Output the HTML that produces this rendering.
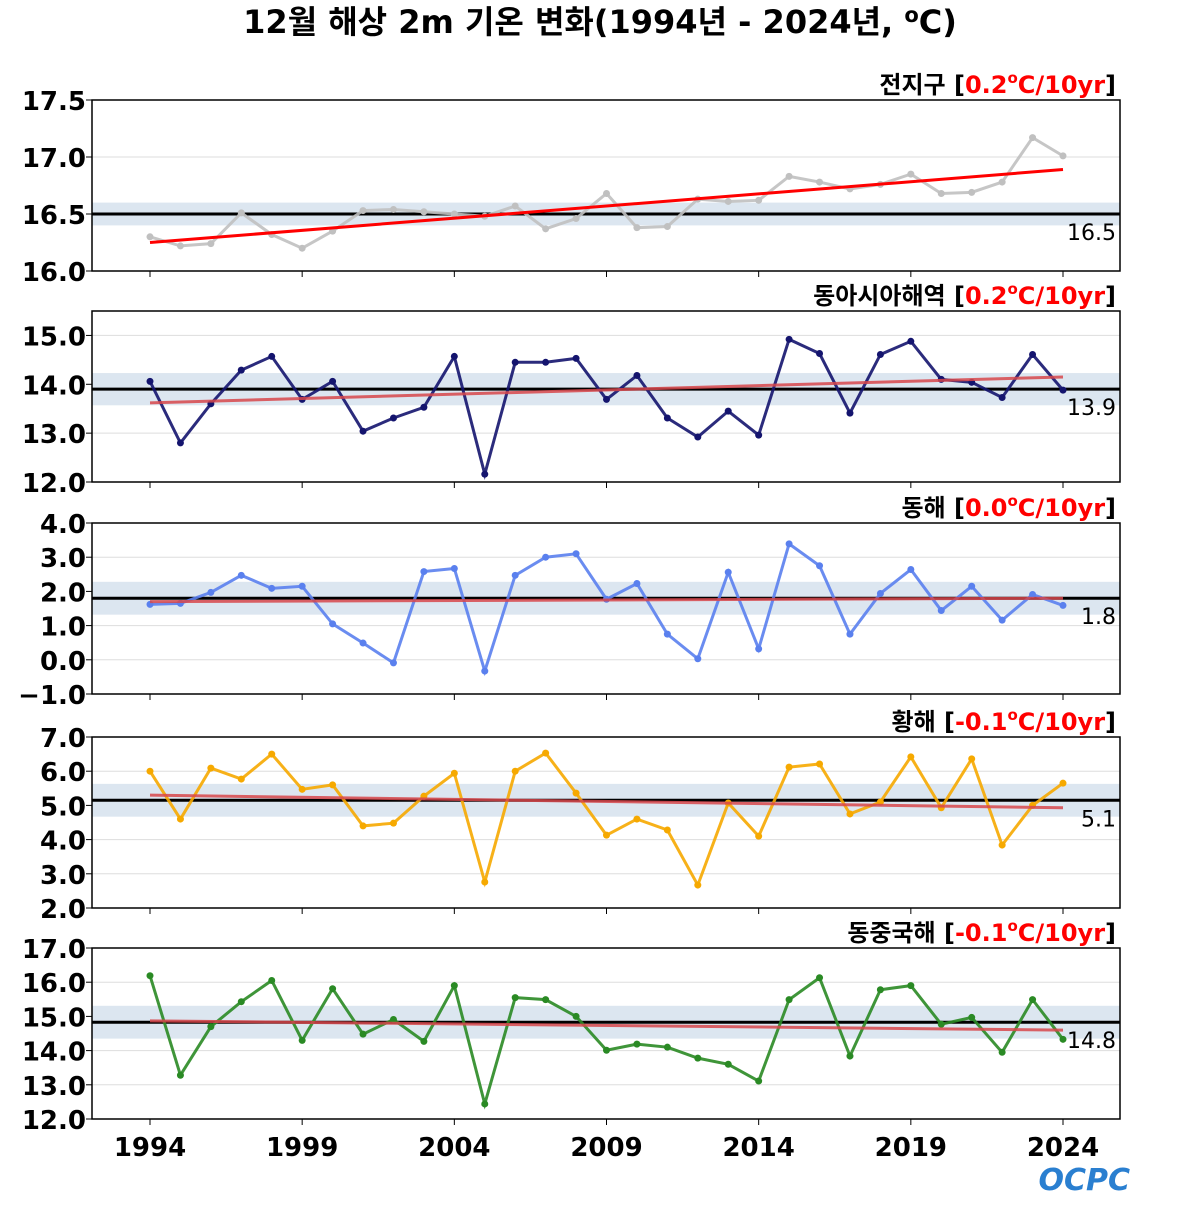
<!DOCTYPE html>
<html><head><meta charset="utf-8"><style>
body{margin:0;background:#fff;}
svg text{font-family:"DejaVu Sans","Noto Sans CJK KR",sans-serif;}
</style></head><body>
<svg id="c" width="1200" height="1200" xmlns="http://www.w3.org/2000/svg">
<text x="600" y="33" text-anchor="middle" font-size="32" font-weight="bold">12월 해상 2m 기온 변화(1994년 - 2024년, <tspan font-size="21" dy="-11">o</tspan><tspan dy="11">C)</tspan></text>
<text x="1130" y="1190" text-anchor="end" font-size="30" font-weight="bold" fill="#2a7fd0" font-style="italic">OCPC</text>
</svg>
<script>
const years = [];
for (let y = 1994; y <= 2024; y++) years.push(y);
const xTicks = [1994, 1999, 2004, 2009, 2014, 2019, 2024];
const globalVals = [16.30,16.22,16.24,16.51,16.32,16.20,16.35,16.53,16.54,16.52,16.50,16.48,16.57,16.37,16.46,16.68,16.38,16.39,16.63,16.61,16.62,16.83,16.78,16.72,16.76,16.85,16.68,16.69,16.78,17.17,17.01];
const eastAsiaVals = [14.06,12.80,13.60,14.29,14.57,13.69,14.06,13.04,13.31,13.53,14.57,12.16,14.45,14.45,14.53,13.69,14.18,13.31,12.92,13.45,12.96,14.92,14.63,13.41,14.61,14.88,14.10,14.04,13.73,14.61,13.88];
const eastSeaVals = [1.62,1.65,1.97,2.47,2.09,2.15,1.05,0.49,-0.09,2.58,2.67,-0.33,2.47,3.00,3.10,1.77,2.23,0.75,0.03,2.56,0.32,3.39,2.75,0.75,1.94,2.64,1.44,2.15,1.16,1.91,1.59];
const yellowSeaVals = [6.00,4.60,6.09,5.77,6.50,5.47,5.60,4.40,4.48,5.27,5.94,2.76,6.00,6.53,5.36,4.13,4.60,4.28,2.67,5.07,4.10,6.12,6.21,4.75,5.10,6.42,4.93,6.36,3.84,5.00,5.65];
const ecsVals = [16.19,13.28,14.70,15.43,16.05,14.30,15.81,14.48,14.91,14.27,15.90,12.44,15.55,15.49,15.00,14.01,14.19,14.10,13.78,13.60,13.11,15.49,16.13,13.84,15.78,15.90,14.77,14.97,13.95,15.49,14.33];
const panelNames = ["전지구","동아시아해역","동해","황해","동중국해"];
const trendLabels = ["0.2","0.2","0.0","-0.1","-0.1"];
const means = [16.5,13.9,1.8,5.15,14.83];
const meanLabels = ["16.5","13.9","1.8","5.1","14.8"];
const bandHalf = [0.1,0.33,0.48,0.48,0.48];
const trendStart = [16.25,13.62,1.70,5.30,14.87];
const trendEnd = [16.89,14.15,1.80,4.93,14.60];
const yMin = [16.0,12.0,-1.0,2.0,12.0];
const yMax = [17.5,15.5,4.0,7.0,17.0];
const yTicks = [[16.0,16.5,17.0,17.5],[12.0,13.0,14.0,15.0],[-1,0,1,2,3,4],[2,3,4,5,6,7],[12,13,14,15,16,17]];
const allVals = [globalVals,eastAsiaVals,eastSeaVals,yellowSeaVals,ecsVals];
const colors = ["#c0c0c0","#14146e","#5a80ee","#f6a900","#2a8a24"];
const trendColors = ["#ff0000","rgba(215,70,75,0.85)","rgba(215,70,75,0.85)","rgba(215,70,75,0.85)","rgba(215,70,75,0.85)"];
const panelKeys = ["global","east-asia","east-sea","yellow-sea","east-china-sea"];

const svg = document.getElementById('c');
const NS = "http://www.w3.org/2000/svg";
const L = 92, R = 1120;
const tops = [100,311,523,737,948], H = 171;
function el(tag, attrs, parent){const e=document.createElementNS(NS,tag);for(const k in attrs)e.setAttribute(k,attrs[k]);(parent||svg).appendChild(e);return e;}
const xs = y => 150 + (y-1994)*(1063-150)/30;

for (let p=0;p<5;p++){
  const top=tops[p], bot=top+H;
  const ys = v => bot - (v-yMin[p])/(yMax[p]-yMin[p])*H;
  const g = el('g',{});
  
  
  yTicks[p].forEach(t=>{
    const gl=el('line',{x1:L,x2:R,y1:ys(t),y2:ys(t),stroke:'#dddddd','stroke-width':1},g);
    
    
    const tk=el('line',{x1:L-6,x2:L,y1:ys(t),y2:ys(t),stroke:'#000'},g);
    
    
    const tl=el('text',{x:L-6,y:ys(t)+10,'text-anchor':'end','font-size':26,'font-weight':'bold'},g);
    tl.textContent = (t<0?'\u2212'+Math.abs(t).toFixed(1):t.toFixed(1));
    
    
  });
  const band=el('rect',{x:L,width:R-L,y:ys(means[p]+bandHalf[p]),height:ys(means[p]-bandHalf[p])-ys(means[p]+bandHalf[p]),fill:'#dce6f0'},g);
  
  
  const ml=el('line',{x1:L,x2:R,y1:ys(means[p]),y2:ys(means[p]),stroke:'#000','stroke-width':3},g);
  
  
  const mt=el('text',{x:1116,y:ys(means[p])+26,'text-anchor':'end','font-size':22},g);
  mt.textContent=meanLabels[p];
  
  
  const vals=allVals[p];
  const pl=el('polyline',{points:vals.map((v,i)=>xs(years[i])+','+ys(v)).join(' '),fill:'none',stroke:colors[p],'stroke-width':3,'stroke-opacity':0.9},g);
  
  
  vals.forEach((v,i)=>{
    const c=el('circle',{cx:xs(years[i]),cy:ys(v),r:3.5,fill:colors[p]},g);
    
    
  });
  const tr=el('line',{x1:xs(1994),x2:xs(2024),y1:ys(trendStart[p]),y2:ys(trendEnd[p]),stroke:trendColors[p],'stroke-width':3},g);
  
  
  xTicks.forEach(t=>{
    const k=el('line',{x1:xs(t),x2:xs(t),y1:bot,y2:bot+6,stroke:'#000'},g);
    
    
  });
  const fr=el('rect',{x:L,y:top,width:R-L,height:H,fill:'none',stroke:'#000','stroke-width':1.5},g);
  
  
  const tt=el('text',{x:1116,y:top-7,'text-anchor':'end','font-size':24,'font-weight':'bold'},g);
  tt.innerHTML = panelNames[p]+' [<tspan fill="#ff0000">'+trendLabels[p]+'<tspan font-size="15" dy="-10">o</tspan><tspan dy="10">C/10yr</tspan></tspan>]';
  
  
}
xTicks.forEach(t=>{
  const xl=el('text',{x:xs(t),y:1156,'text-anchor':'middle','font-size':26,'font-weight':'bold'});
  xl.textContent=t;
  
  
});
</script>
</body></html>
